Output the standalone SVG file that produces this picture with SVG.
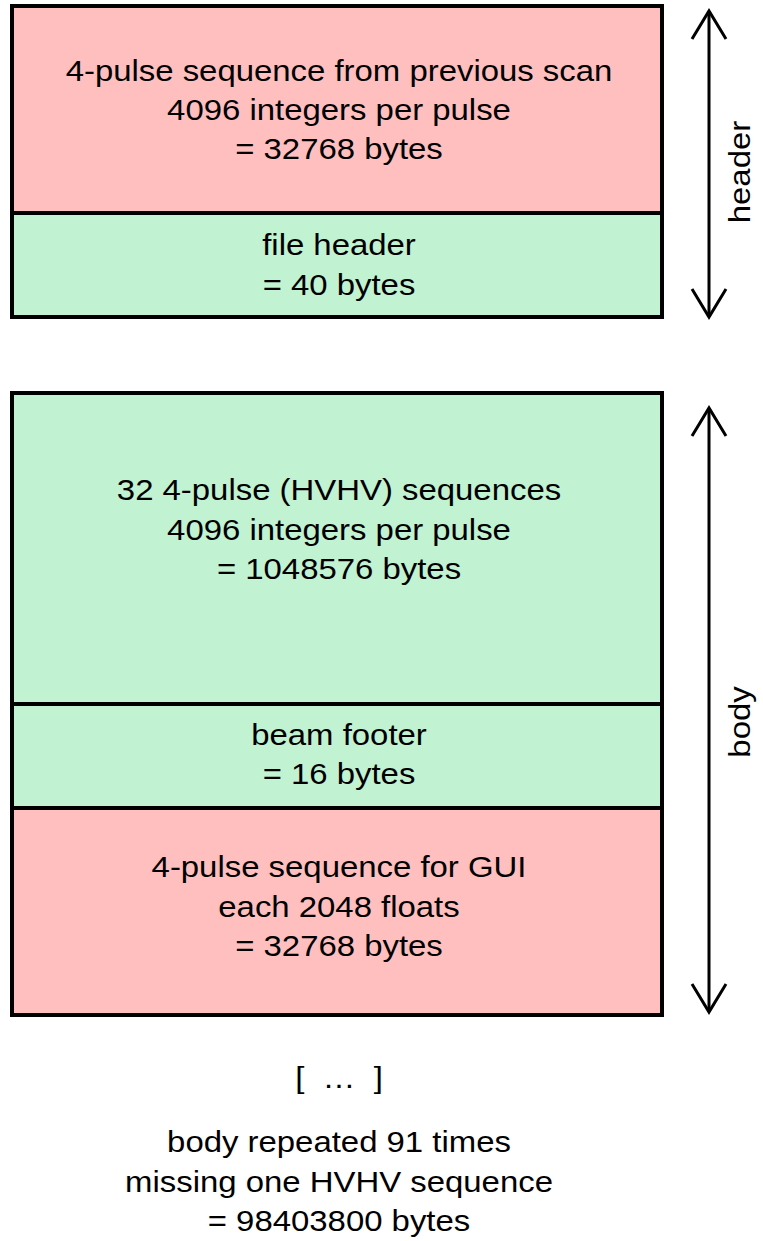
<svg xmlns="http://www.w3.org/2000/svg" width="763" height="1241" viewBox="0 0 763 1241">
<style>
.pink{fill:#FFBFBF;stroke:#000;stroke-width:4}
.green{fill:#C1F2D2;stroke:#000;stroke-width:4}
text{font-family:"Liberation Sans",Arial,sans-serif;font-size:29px;fill:#000;text-anchor:middle}
.ln{stroke:#000;stroke-width:3;fill:none}
</style>
<rect width="763" height="1241" fill="#fff"/>
<g id="prev-scan">
<rect class="pink" x="12" y="6" width="650" height="207"/>
<text transform="translate(339,81) scale(1.135,1)">4-pulse sequence from previous scan</text>
<text transform="translate(339,120) scale(1.135,1)">4096 integers per pulse</text>
<text transform="translate(339,159) scale(1.135,1)">= 32768 bytes</text>
</g>
<g id="file-header">
<rect class="green" x="12" y="213" width="650" height="104"/>
<text transform="translate(339,255) scale(1.135,1)">file header</text>
<text transform="translate(339,295) scale(1.135,1)">= 40 bytes</text>
</g>
<g id="sequences">
<rect class="green" x="12" y="393" width="650" height="311"/>
<text transform="translate(339,500) scale(1.135,1)">32 4-pulse (HVHV) sequences</text>
<text transform="translate(339,540) scale(1.135,1)">4096 integers per pulse</text>
<text transform="translate(339,579) scale(1.135,1)">= 1048576 bytes</text>
</g>
<g id="beam-footer">
<rect class="green" x="12" y="704" width="650" height="104"/>
<text transform="translate(339,745) scale(1.135,1)">beam footer</text>
<text transform="translate(339,784) scale(1.135,1)">= 16 bytes</text>
</g>
<g id="gui-seq">
<rect class="pink" x="12" y="808" width="650" height="207"/>
<text transform="translate(339,877) scale(1.135,1)">4-pulse sequence for GUI</text>
<text transform="translate(339,917) scale(1.135,1)">each 2048 floats</text>
<text transform="translate(339,956) scale(1.135,1)">= 32768 bytes</text>
</g>
<g id="connectors">
<line class="ln" x1="709" y1="11" x2="709" y2="317"/>
<polyline class="ln" points="692,39 709,11 726,39"/>
<polyline class="ln" points="692,289 709,317 726,289"/>
<line class="ln" x1="709" y1="408" x2="709" y2="1012"/>
<polyline class="ln" points="692,436 709,408 726,436"/>
<polyline class="ln" points="692,984 709,1012 726,984"/>
</g>
<g id="labels">
<text transform="translate(750,172) rotate(-90) scale(1.135,1)">header</text>
<text transform="translate(750,722) rotate(-90) scale(1.135,1)">body</text>
<text transform="translate(339,1088) scale(1.135,1)" xml:space="preserve">[  …  ]</text>
<text transform="translate(339,1152) scale(1.135,1)">body repeated 91 times</text>
<text transform="translate(339,1192) scale(1.135,1)">missing one HVHV sequence</text>
<text transform="translate(339,1231) scale(1.135,1)">= 98403800 bytes</text>
</g>
</svg>
